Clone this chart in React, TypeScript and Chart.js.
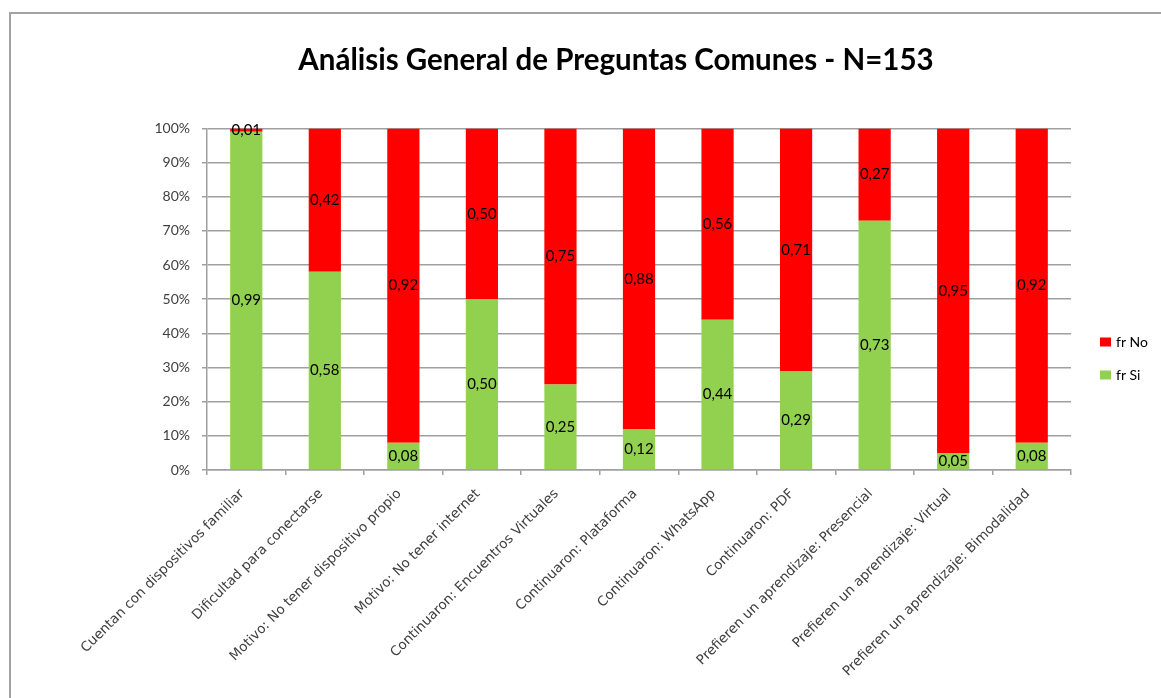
import React, { useEffect, useRef } from "react";
import { Chart, registerables } from "chart.js";

Chart.register(...registerables);

const TITLE = "Análisis General de Preguntas Comunes - N=153";
const categories = [
  "Cuentan con dispositivos familiar",
  "Dificultad para conectarse",
  "Motivo: No tener dispositivo propio",
  "Motivo: No tener internet",
  "Continuaron: Encuentros Virtuales",
  "Continuaron: Plataforma",
  "Continuaron: WhatsApp",
  "Continuaron: PDF",
  "Prefieren un aprendizaje: Presencial",
  "Prefieren un aprendizaje: Virtual",
  "Prefieren un aprendizaje: Bimodalidad",
];
const frSi = [0.99, 0.58, 0.08, 0.5, 0.25, 0.12, 0.44, 0.29, 0.73, 0.05, 0.08];
const frNo = [0.01, 0.42, 0.92, 0.5, 0.75, 0.88, 0.56, 0.71, 0.27, 0.95, 0.92];
const seriesNames = ["fr Si", "fr No"];
const seriesColors = ["#92D050", "#FF0000"];

const FONT = "Lato, 'Open Sans', sans-serif";
const XFONT = "'DejaVu Sans', 'Open Sans', sans-serif";

const fmt = (v: number) => v.toFixed(2).replace(".", ",");

const dataLabelPlugin = {
  id: "dataLabels",
  afterDatasetsDraw(chart: any) {
    const ctx = chart.ctx;
    ctx.save();
    ctx.font = `15px ${FONT}`;
    ctx.fillStyle = "#000000";
    ctx.textAlign = "center";
    ctx.textBaseline = "middle";
    chart.data.datasets.forEach((ds: any, i: number) => {
      const meta = chart.getDatasetMeta(i);
      meta.data.forEach((bar: any, j: number) => {
        const p = bar.getProps(["x", "y", "base"], true);
        ctx.fillText(fmt(ds.data[j]), p.x, (p.y + p.base) / 2);
      });
    });
    ctx.restore();
  },
};

const legendPlugin = {
  id: "sideLegend",
  afterDraw(chart: any) {
    const ctx = chart.ctx;
    const area = chart.chartArea;
    const ds = [...chart.data.datasets].reverse();
    ctx.save();
    ctx.font = `14px ${FONT}`;
    ctx.textBaseline = "middle";
    ctx.textAlign = "left";
    const x = area.right + 29;
    const y0 = chart.height / 2 - 14;
    ds.forEach((d: any, k: number) => {
      const y = y0 + k * 33;
      ctx.fillStyle = d.backgroundColor;
      ctx.fillRect(x, y - 4.5, 11, 9);
      ctx.fillStyle = "#000000";
      ctx.fillText(d.label, x + 16, y);
    });
    ctx.restore();
  },
};

export default function App() {
  const ref = useRef<HTMLCanvasElement | null>(null);
  useEffect(() => {
    if (!ref.current) return;
    const chart = new Chart(ref.current, {
      type: "bar",
      data: {
        labels: categories,
        datasets: [
          {
            label: seriesNames[0],
            data: frSi,
            backgroundColor: seriesColors[0],
            barPercentage: 0.41,
            categoryPercentage: 1,
          },
          {
            label: seriesNames[1],
            data: frNo,
            backgroundColor: seriesColors[1],
            barPercentage: 0.41,
            categoryPercentage: 1,
          },
        ],
      },
      options: {
        responsive: false,
        animation: false,
        layout: { padding: 0 },
        plugins: {
          legend: { display: false },
          tooltip: { enabled: false },
          title: {
            display: true,
            text: TITLE,
            color: "#000000",
            font: { family: FONT, size: 29.5, weight: "bold" },
            padding: { top: 29, bottom: 50 },
          },
        },
        scales: {
          x: {
            stacked: true,
            grid: {
              offset: true,
              drawOnChartArea: false,
              drawTicks: true,
              tickLength: 5,
              color: "#a0a0a0",
              lineWidth: 1.5,
            },
            border: { color: "#a0a0a0", width: 1.5 },
            ticks: {
              autoSkip: false,
              minRotation: 45,
              maxRotation: 45,
              padding: 11,
              labelOffset: -4,
              color: "#404040",
              font: { family: XFONT, size: 13.5 },
            },
            afterFit(scale: any) {
              scale.height = 228;
            },
          },
          y: {
            stacked: true,
            min: 0,
            max: 1,
            grid: {
              color: "#a0a0a0",
              lineWidth: 1.5,
              tickLength: 5,
            },
            border: { color: "#a0a0a0", width: 1.5 },
            ticks: {
              stepSize: 0.1,
              padding: 12,
              color: "#404040",
              font: { family: FONT, size: 14 },
              callback: (v: any) => Math.round(Number(v) * 100) + "%",
            },
            afterFit(scale: any) {
              scale.width = 196;
            },
          },
          legendSpace: {
            type: "linear",
            position: "right",
            display: true,
            grid: { display: false, drawTicks: false },
            border: { display: false },
            ticks: { display: false },
            afterFit(scale: any) {
              scale.width = 150;
            },
          },
        },
      },
      plugins: [dataLabelPlugin, legendPlugin],
    } as any);
    return () => chart.destroy();
  }, []);

  return (
    <div
      style={{
        position: "fixed",
        left: 9,
        top: 12,
        right: 0,
        bottom: 0,
        borderLeft: "2px solid #a3a3a3",
        borderTop: "2px solid #a3a3a3",
        overflow: "hidden",
        background: "#ffffff",
      }}
    >
      <canvas
        ref={ref}
        width={1210}
        height={684}
        style={{ display: "block", position: "absolute", left: 0, top: 0 }}
      />
    </div>
  );
}
